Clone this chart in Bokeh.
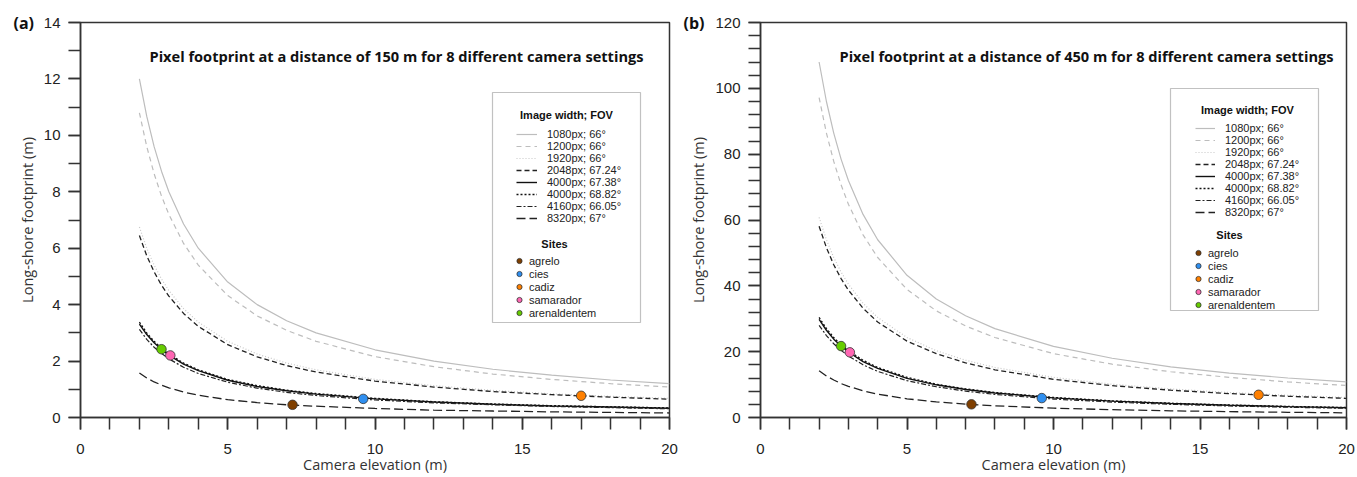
from bokeh.plotting import figure
from bokeh.layouts import row
from bokeh.models import (Legend, LegendItem, Label, BoxAnnotation, Title,
                          SingleIntervalTicker, Range1d)
from bokeh.embed import file_html
from bokeh.resources import INLINE

# ---------------- data ----------------
elev = [2, 2.25, 2.5, 2.75, 3, 3.5, 4, 5, 6, 7, 8, 10, 12, 14, 16, 18, 20]

settings = ["1080px; 66°", "1200px; 66°", "1920px; 66°", "2048px; 67.24°",
            "4000px; 67.38°", "4000px; 68.82°", "4160px; 66.05°", "8320px; 67°"]

# footprint (m) at 150 m distance
fp150_1080 = [12.0, 10.67, 9.6, 8.73, 8.0, 6.86, 6.0, 4.8, 4.0, 3.43, 3.0, 2.4, 2.0, 1.71, 1.5, 1.33, 1.2]
fp150_1200 = [10.8, 9.6, 8.64, 7.85, 7.2, 6.17, 5.4, 4.32, 3.6, 3.09, 2.7, 2.16, 1.8, 1.54, 1.35, 1.2, 1.08]
fp150_1920 = [6.75, 6.0, 5.4, 4.91, 4.5, 3.86, 3.38, 2.7, 2.25, 1.93, 1.69, 1.35, 1.13, 0.96, 0.84, 0.75, 0.68]
fp150_2048 = [6.45, 5.73, 5.16, 4.69, 4.3, 3.69, 3.23, 2.58, 2.15, 1.84, 1.61, 1.29, 1.08, 0.92, 0.81, 0.72, 0.65]
fp150_4000a = [3.31, 2.94, 2.65, 2.41, 2.21, 1.89, 1.66, 1.32, 1.10, 0.95, 0.83, 0.66, 0.55, 0.47, 0.41, 0.37, 0.33]
fp150_4000b = [3.38, 3.0, 2.70, 2.46, 2.25, 1.93, 1.69, 1.35, 1.13, 0.97, 0.85, 0.68, 0.56, 0.48, 0.42, 0.38, 0.34]
fp150_4160 = [3.12, 2.77, 2.49, 2.27, 2.08, 1.78, 1.56, 1.25, 1.04, 0.89, 0.78, 0.62, 0.52, 0.45, 0.39, 0.35, 0.31]
fp150_8320 = [1.58, 1.40, 1.26, 1.15, 1.05, 0.90, 0.79, 0.63, 0.53, 0.45, 0.40, 0.32, 0.26, 0.23, 0.20, 0.18, 0.16]

# footprint (m) at 450 m distance
fp450_1080 = [108, 96.0, 86.4, 78.5, 72.0, 61.7, 54.0, 43.2, 36.0, 30.9, 27.0, 21.6, 18.0, 15.4, 13.5, 12.0, 10.8]
fp450_1200 = [97.2, 86.4, 77.8, 70.7, 64.8, 55.5, 48.6, 38.9, 32.4, 27.8, 24.3, 19.4, 16.2, 13.9, 12.2, 10.8, 9.72]
fp450_1920 = [60.8, 54.0, 48.6, 44.2, 40.5, 34.7, 30.4, 24.3, 20.3, 17.4, 15.2, 12.2, 10.1, 8.68, 7.59, 6.75, 6.08]
fp450_2048 = [58.1, 51.6, 46.4, 42.2, 38.7, 33.2, 29.0, 23.2, 19.4, 16.6, 14.5, 11.6, 9.68, 8.29, 7.26, 6.45, 5.81]
fp450_4000a = [29.8, 26.5, 23.8, 21.7, 19.9, 17.0, 14.9, 11.9, 9.93, 8.51, 7.45, 5.96, 4.97, 4.26, 3.73, 3.31, 2.98]
fp450_4000b = [30.4, 27.0, 24.3, 22.1, 20.3, 17.4, 15.2, 12.2, 10.1, 8.69, 7.6, 6.08, 5.07, 4.34, 3.8, 3.38, 3.04]
fp450_4160 = [28.0, 24.9, 22.4, 20.4, 18.7, 16.0, 14.0, 11.2, 9.35, 8.01, 7.01, 5.61, 4.68, 4.01, 3.51, 3.12, 2.81]
fp450_8320 = [14.2, 12.6, 11.4, 10.3, 9.47, 8.11, 7.1, 5.68, 4.73, 4.06, 3.55, 2.84, 2.37, 2.03, 1.78, 1.58, 1.42]

sites = ["agrelo", "cies", "cadiz", "samarador", "arenaldentem"]
site_elev = [7.2, 9.6, 17.0, 3.05, 2.75]
site_fp150 = [0.45, 0.66, 0.77, 2.2, 2.42]
site_fp450 = [4.0, 5.9, 6.9, 19.8, 21.7]
site_colors = ["#7f3f00", "#2f8ff0", "#ff8000", "#ff66b3", "#66cc00"]

curves150 = [fp150_1080, fp150_1200, fp150_1920, fp150_2048, fp150_4000a, fp150_4000b, fp150_4160, fp150_8320]
curves450 = [fp450_1080, fp450_1200, fp450_1920, fp450_2048, fp450_4000a, fp450_4000b, fp450_4160, fp450_8320]

# line styles (color, dash, width)
styles = [("#bdbdbd", "solid", 1.2),
          ("#bdbdbd", "5 4", 1.2),
          ("#c8c8c8", "1 2", 1.2),
          ("#222222", "5 3", 1.3),
          ("#111111", "solid", 1.4),
          ("#111111", "2 2", 1.3),
          ("#222222", "5 2 2 2", 1.2),
          ("#222222", "9 4", 1.3)]

AX = "#333333"
FH = 395


def make_panel(curves, site_fp, ymax, yint, yminor, title_text, tag,
               tag_off, title_xy, bl, fw, br, g):
    p = figure(frame_width=fw, frame_height=FH,
               x_range=Range1d(0, 20), y_range=Range1d(0, ymax),
               output_backend="svg", toolbar_location=None,
               min_border_left=bl, min_border_right=br,
               min_border_top=22, min_border_bottom=40)
    p.xgrid.visible = False
    p.ygrid.visible = False
    p.outline_line_color = AX
    p.outline_line_width = 1.5
    p.background_fill_color = "white"
    p.border_fill_color = "white"

    def fx(px):
        return px / fw * 20.0

    def fy(py):
        return py / FH * ymax

    p.xaxis.ticker = SingleIntervalTicker(interval=5, num_minor_ticks=5)
    p.yaxis.ticker = SingleIntervalTicker(interval=yint, num_minor_ticks=yminor)
    for ax in (p.xaxis[0], p.yaxis[0]):
        ax.axis_line_color = AX
        ax.axis_line_width = 1.5
        ax.major_tick_line_color = AX
        ax.minor_tick_line_color = AX
        ax.major_tick_line_width = 1.5
        ax.minor_tick_line_width = 1.5
        ax.major_tick_in = 0
        ax.minor_tick_in = 0
        ax.major_tick_out = 12
        ax.minor_tick_out = 12
        ax.major_label_text_font = "Liberation Sans"
        ax.major_label_text_font_size = "15px"
        ax.major_label_text_color = "#222222"
        ax.axis_label_text_font = "Open Sans"
        ax.axis_label_text_font_size = "14.5px"
        ax.axis_label_text_font_style = "normal"
        ax.axis_label_text_color = "#333333"
    p.xaxis.axis_label = "Camera elevation (m)"
    p.yaxis.axis_label = "Long-shore footprint (m)"
    p.xaxis.major_label_standoff = 14
    p.xaxis.axis_label_standoff = -2
    p.yaxis.major_label_standoff = 8
    p.yaxis.axis_label_standoff = 4

    line_rs = []
    for ys, (c, d, w) in zip(curves, styles):
        r = p.line(elev, ys, line_color=c, line_dash=d, line_width=w)
        line_rs.append(r)

    site_rs = []
    for i, s in enumerate(sites):
        r = p.scatter([site_elev[i]], [site_fp[i]], size=9.5, marker="circle",
                      fill_color=site_colors[i], line_color="#333333",
                      line_width=0.8)
        site_rs.append(r)

    # legend frame
    box = BoxAnnotation(left=fx(g["box"][0]), right=fx(g["box"][1]),
                        bottom=fy(g["box"][2]), top=fy(g["box"][3]),
                        fill_color="white", fill_alpha=1.0,
                        line_color="#333333", line_width=1.2, level="annotation")
    p.add_layout(box)

    leg1 = Legend(items=[LegendItem(label=s, renderers=[r]) for s, r in zip(settings, line_rs)],
                  location=g["leg1"], border_line_color=None,
                  background_fill_alpha=0, padding=0, margin=0, spacing=0,
                  glyph_height=12, glyph_width=g["gw1"], label_height=12,
                  label_standoff=10, label_text_font="Liberation Sans",
                  label_text_font_size="11px", label_text_color="#222222")
    leg2 = Legend(items=[LegendItem(label=s, renderers=[r]) for s, r in zip(sites, site_rs)],
                  location=g["leg2"], border_line_color=None,
                  background_fill_alpha=0, padding=0, margin=0, spacing=0,
                  glyph_height=13, glyph_width=14, label_height=13,
                  label_standoff=3, label_text_font="Liberation Sans",
                  label_text_font_size="11px", label_text_color="#222222")
    p.add_layout(leg1)
    p.add_layout(leg2)

    for txt, (tx, ty) in (("Image width; FOV", g["t1"]), ("Sites", g["t2"])):
        p.add_layout(Label(x=fx(tx), y=fy(ty), text=txt, text_align="center",
                           text_baseline="middle", text_font="Liberation Sans",
                           text_font_size="11px", text_font_style="bold",
                           text_color="#111111"))

    p.add_layout(Label(x=fx(title_xy[0]), y=fy(title_xy[1]), text=title_text,
                       text_align="center", text_baseline="middle",
                       text_font="Open Sans", text_font_size="14.6px",
                       text_font_style="bold", text_color="#111111"))
    p.add_layout(Title(text=tag, align="left", offset=tag_off,
                       vertical_align="middle", standoff=-30,
                       text_font="Open Sans", text_font_size="16px",
                       text_font_style="bold", text_color="#111111"), "above")
    return p


# frame-relative pixel geometry (x from frame left, y from frame bottom)
ga = {"box": (412, 560, 95, 325), "leg1": (436, 193), "gw1": 21,
      "leg2": (432, 98), "t1": (486, 303), "t2": (474, 174)}
gb = {"box": (410, 558, 107, 329), "leg1": (435, 199), "gw1": 20,
      "leg2": (431, 106), "t1": (487, 308), "t2": (469, 183)}

pa = make_panel(curves150, site_fp150, 14, 2, 2,
                "Pixel footprint at a distance of 150 m for 8 different camera settings",
                "(a)", -67, (316, 362), 80, 589, 11, ga)
pb = make_panel(curves450, site_fp450, 120, 20, 5,
                "Pixel footprint at a distance of 450 m for 8 different camera settings",
                "(b)", -77, (326, 362), 80, 586, 11, gb)

layout = row(pa, pb)
open("out.html", "w").write(file_html(layout, INLINE))
